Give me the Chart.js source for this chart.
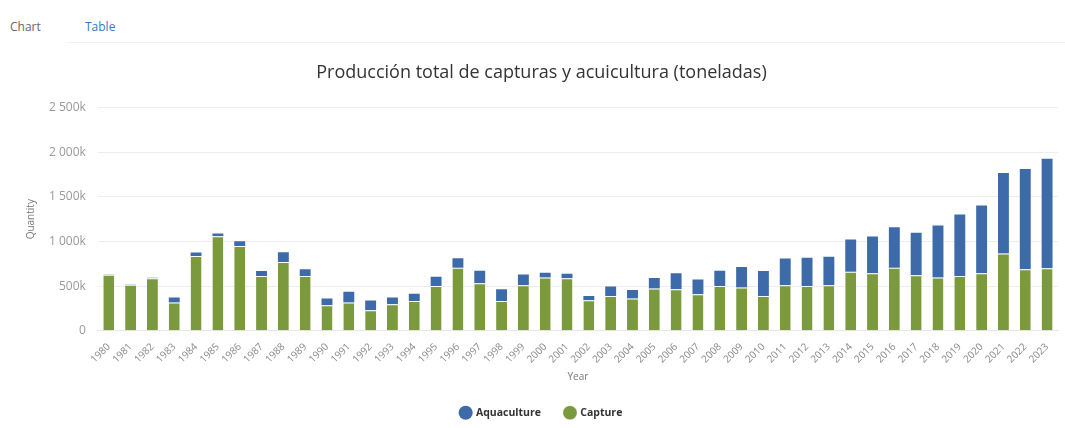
<!DOCTYPE html>
<html>
<head>
<meta charset="utf-8">
<script src="https://cdn.jsdelivr.net/npm/chart.js@4/dist/chart.umd.min.js"></script>
<style>
    body { margin: 0; background: #fff; font-family: "Open Sans", sans-serif; }
    #tabs { position: absolute; left: 0; top: 0; width: 1065px; height: 44px; }
    .tab { position: absolute; top: 18px; font-size: 12px; }
    #tabChart { left: 10px; color: #666; }
    #tabTable { left: 85px; color: #3a78c4; }
    #linea { position: absolute; left: 66px; top: 42px; width: 999px; border-top: 1px solid #f0f0f0; }
    #contenedor { position: absolute; left: 0; top: 48px; width: 1065px; height: 380px; }
</style>
</head>
<body>
<div id="tabs">
    <span class="tab" id="tabChart">Chart</span>
    <span class="tab" id="tabTable">Table</span>
    <div id="linea"></div>
</div>
<div id="contenedor"><canvas id="grafico"></canvas></div>
<script>
// valores en miles de toneladas
const anios = ["1980", "1981", "1982", "1983", "1984", "1985", "1986", "1987", "1988", "1989",
    "1990", "1991", "1992", "1993", "1994", "1995", "1996", "1997", "1998", "1999",
    "2000", "2001", "2002", "2003", "2004", "2005", "2006", "2007", "2008", "2009",
    "2010", "2011", "2012", "2013", "2014", "2015", "2016", "2017", "2018", "2019",
    "2020", "2021", "2022", "2023"];

const captura = [628, 516, 590, 317, 837, 1060, 949, 614, 770, 614,
    287, 317, 231, 298, 335, 502, 707, 532, 335, 510,
    596, 590, 343, 391, 361, 473, 465, 410, 502, 484,
    391, 510, 502, 510, 663, 644, 707, 622, 596, 614,
    644, 867, 689, 700];

const acuicultura = [4, 4, 5, 55, 40, 30, 55, 55, 110, 75,
    75, 120, 110, 75, 80, 105, 105, 140, 130, 120,
    55, 50, 48, 105, 95, 120, 180, 165, 170, 230,
    280, 300, 317, 320, 360, 413, 454, 476, 584, 688,
    759, 901, 1123, 1227];

const ticksY = [0, 500, 1000, 1500, 2000, 2500];

function formatoK(valor) {
    let texto = String(valor);
    if (valor >= 1000) {
        texto = texto.slice(0, texto.length - 3) + " " + texto.slice(-3);
    }
    return valor === 0 ? "0" : texto + "k";
}

const ctx = document.getElementById("grafico").getContext("2d");

new Chart(ctx, {
    type: "bar",
    data: {
        labels: anios,
        datasets: [
            {
                label: "Capture",
                data: captura,
                backgroundColor: "#7b9a3e",
                borderColor: "#ffffff",
                borderWidth: { top: 1, left: 0, right: 0, bottom: 0 },
                borderSkipped: false
            },
            {
                label: "Aquaculture",
                data: acuicultura,
                backgroundColor: "#3d6baa",
                borderWidth: 0
            }
        ]
    },
    options: {
        responsive: true,
        maintainAspectRatio: false,
        animation: false,
        layout: { padding: { left: 25, right: 7, top: 0, bottom: 0 } },
        datasets: { bar: { categoryPercentage: 1, barPercentage: 0.5 } },
        plugins: {
            title: {
                display: true,
                text: "Producción total de capturas y acuicultura (toneladas)",
                color: "#333",
                font: { family: "Open Sans", size: 18, weight: "normal" },
                padding: { top: 14, bottom: 24 }
            },
            legend: {
                position: "bottom",
                reverse: true,
                labels: {
                    usePointStyle: true,
                    pointStyle: "circle",
                    boxWidth: 10,
                    boxHeight: 10,
                    padding: 24,
                    color: "#333",
                    font: { family: "Open Sans", size: 10.5, weight: "bold" }
                }
            },
            tooltip: { enabled: false }
        },
        scales: {
            x: {
                stacked: true,
                grid: { display: false },
                border: { display: true, color: "#e6e6e6" },
                ticks: {
                    color: "#888",
                    font: { family: "Open Sans", size: 10 },
                    maxRotation: 45,
                    minRotation: 45,
                    autoSkip: false,
                    padding: 2
                },
                title: {
                    display: true,
                    text: "Year",
                    color: "#777",
                    font: { family: "Open Sans", size: 10 },
                    padding: { top: 4, bottom: 0 }
                }
            },
            y: {
                stacked: true,
                min: 0,
                max: 2500,
                afterBuildTicks: axis => { axis.ticks = ticksY.map(v => ({ value: v })); },
                grid: { color: "#eeeeee", drawTicks: false },
                border: { display: false },
                ticks: {
                    color: "#999",
                    font: { family: "Open Sans", size: 12 },
                    padding: 12,
                    callback: valor => formatoK(valor)
                },
                title: {
                    display: true,
                    text: "Quantity",
                    color: "#777",
                    font: { family: "Open Sans", size: 10 },
                    padding: { top: 0, bottom: 0 }
                }
            }
        }
    }
});
</script>
</body>
</html>
